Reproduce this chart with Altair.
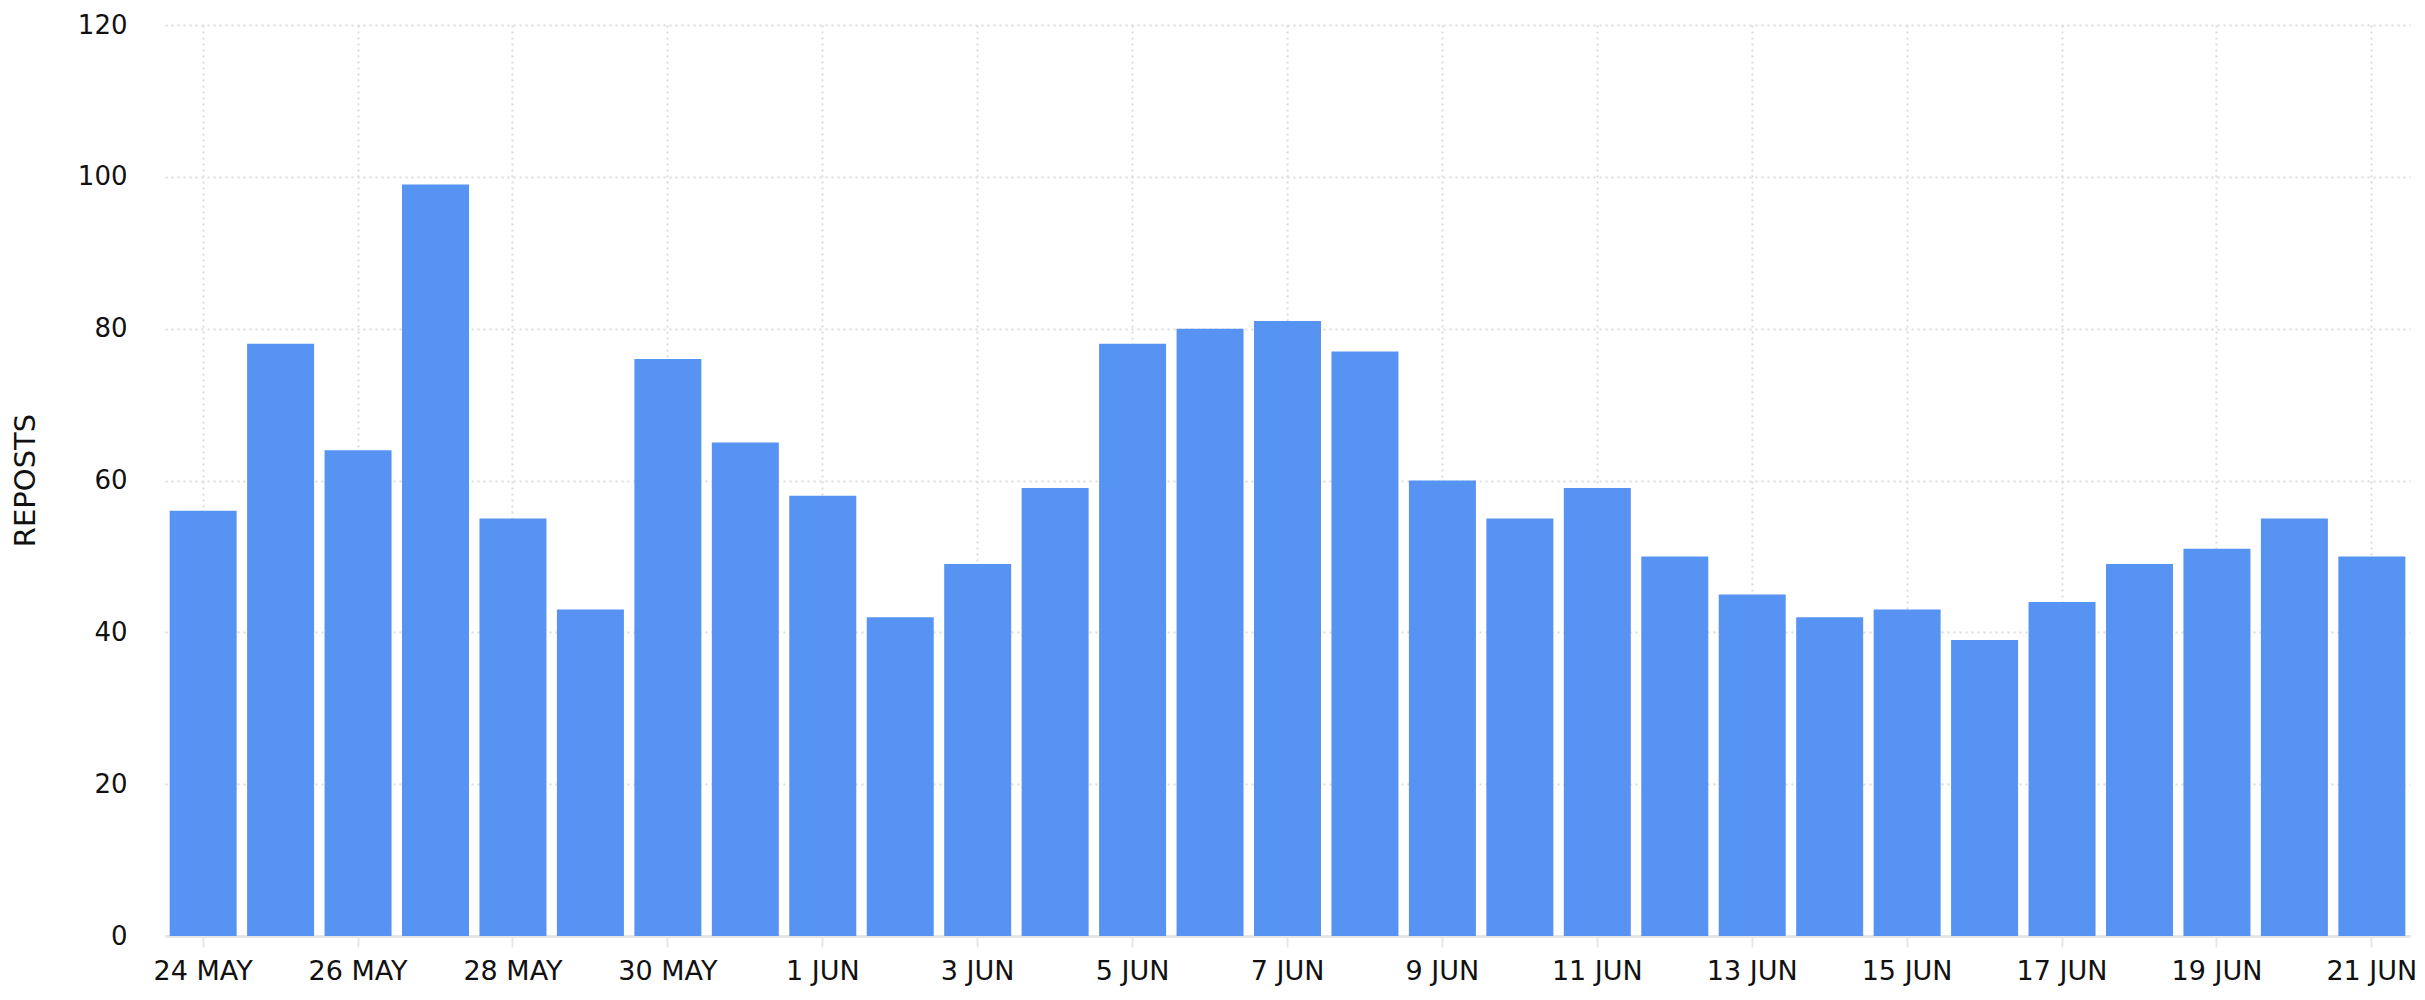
import altair as alt
import pandas as pd

# one bar per day, 24 May .. 21 Jun
days = pd.date_range("2024-05-24", "2024-06-21", freq="D")
day_labels = [f"{d.day} {d.strftime('%b').upper()}" for d in days]
reposts = [56, 78, 64, 99, 55, 43, 76, 65, 58, 42, 49, 59, 78, 80, 81,
           77, 60, 55, 59, 50, 45, 42, 43, 39, 44, 49, 51, 55, 50]
y_ticks = [0, 20, 40, 60, 80, 100, 120]

df = pd.DataFrame({"day": day_labels, "reposts": reposts})

FONT = "DejaVu Sans"
GRID = "#dcdcdc"

chart = (
    alt.Chart(df)
    .mark_bar(color="#5793F3")
    .encode(
        x=alt.X(
            "day:O",
            sort=None,
            title=None,
            scale=alt.Scale(paddingInner=0.135, paddingOuter=0.06),
            axis=alt.Axis(
                values=day_labels[::2],
                labelAngle=0,
                labelFontSize=27,
                labelColor="#111111",
                labelPadding=11,
                tickSize=11,
                tickWidth=2,
                tickColor="#e6e6e6",
                domainColor="#e6e6e6",
                domainWidth=3,
                grid=True,
                gridColor=GRID,
                gridWidth=2,
                gridDash=[2, 4],
            ),
        ),
        y=alt.Y(
            "reposts:Q",
            title="REPOSTS",
            scale=alt.Scale(domain=[0, 120], nice=False),
            axis=alt.Axis(
                values=y_ticks,
                labelFontSize=26,
                labelColor="#111111",
                labelPadding=38,
                ticks=False,
                tickSize=0,
                domain=False,
                gridColor=GRID,
                gridWidth=2,
                gridDash=[2, 4],
                titleFontSize=29,
                titleFontWeight="normal",
                titleColor="#111111",
                titleX=-140,
                titleY=455,
                titleAngle=270,
                titleAlign="center",
                titleBaseline="middle",
            ),
        ),
    )
    .properties(
        width=2245,
        height=911,
        autosize=alt.AutoSizeParams(type="none"),
        padding={"left": 157, "top": 17, "right": 7, "bottom": 64},
    )
    .configure(font=FONT)
    .configure_view(stroke=None)
)

chart.save("out.html", embed_options={"renderer": "svg", "actions": False})
